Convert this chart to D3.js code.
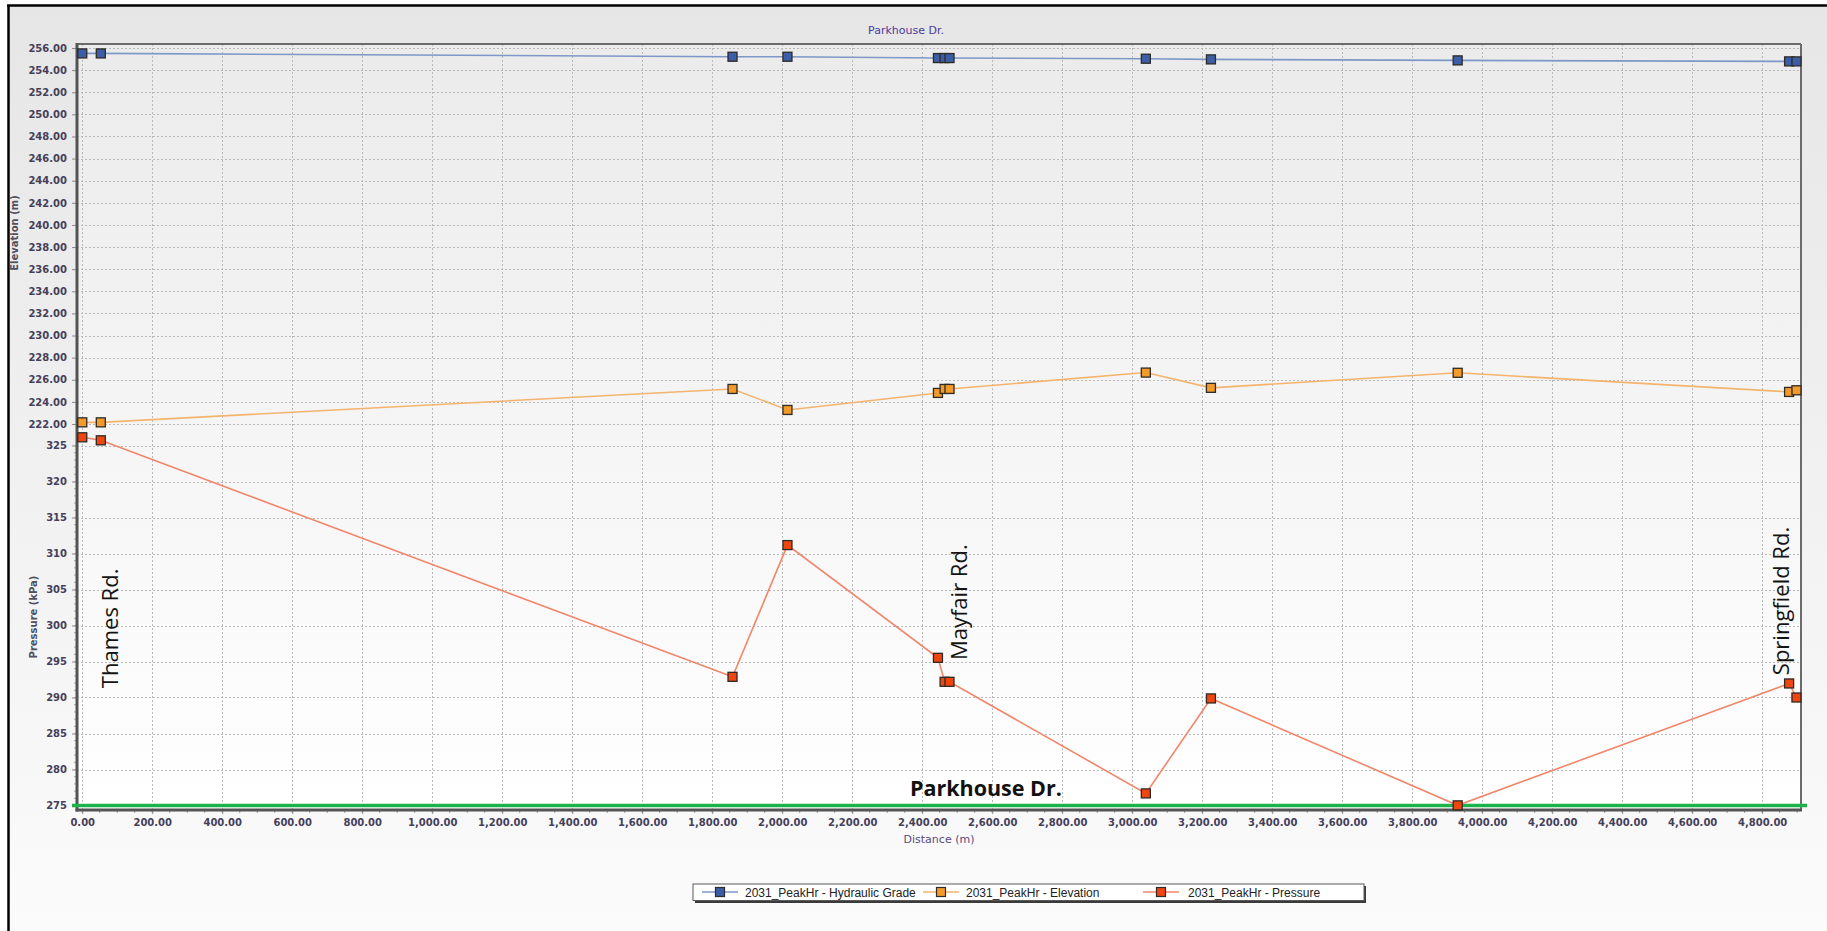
<!DOCTYPE html>
<html>
<head>
<meta charset="utf-8">
<script src="https://cdn.jsdelivr.net/npm/d3@7"></script>
<style>
  html, body { margin: 0; padding: 0; background: #ffffff; }
  svg { display: block; }
</style>
</head>
<body>
<script>
// ---------------- DATA ----------------
const chartTitle = "Parkhouse Dr.";
const distance       = [0, 53, 1858, 2015, 2445, 2464, 2478, 3039, 3225, 3930, 4877, 4898];
const hydraulicGrade = [255.51, 255.51, 255.21, 255.21, 255.09, 255.09, 255.09, 255.03, 254.97, 254.88, 254.79, 254.79];
const elevation      = [222.15, 222.15, 225.17, 223.27, 224.81, 225.17, 225.17, 226.65, 225.27, 226.63, 224.90, 225.05];
const pressure       = [326.14, 325.72, 292.87, 311.17, 295.51, 292.18, 292.18, 276.68, 289.87, 275.02, 291.95, 290.00];

const seriesNames = ["2031_PeakHr - Hydraulic Grade", "2031_PeakHr - Elevation", "2031_PeakHr - Pressure"];
const elevTicks  = [222, 224, 226, 228, 230, 232, 234, 236, 238, 240, 242, 244, 246, 248, 250, 252, 254, 256];
const pressTicks = [275, 280, 285, 290, 295, 300, 305, 310, 315, 320, 325];
const distTicks  = [0, 200, 400, 600, 800, 1000, 1200, 1400, 1600, 1800, 2000, 2200, 2400, 2600, 2800, 3000, 3200, 3400, 3600, 3800, 4000, 4200, 4400, 4600, 4800];

// street annotations: [label, distance, pressure at text start]
const streetLabels   = ["Thames Rd.", "Mayfair Rd.", "Springfield Rd."];
const streetDistance = [103, 2527, 4876];
const streetPressure = [291.3, 295.2, 293.1];
const baseLabel = "Parkhouse Dr.";
const baseLabelDistance = 2582;
const baseLabelPressure = 276.3;
const minimumPressure = 275;

// ---------------- LAYOUT ----------------
const W = 1827, H = 931;
const plot = { left: 77, right: 1801, top: 44, bottom: 810 };

const x = d3.scaleLinear().domain([-15, 4911]).range([plot.left, plot.right]);
const yElev = d3.scaleLinear().domain([222, 256]).range([424, 48]);
const yPress = d3.scaleLinear().domain([275, 325]).range([805.5, 445.5]);

const colors = {
  hglLine: "#7d98c8", hglFill: "#3b5ea6",
  elevLine: "#f4b46e", elevFill: "#f29a2a",
  presLine: "#f1866a", presFill: "#f0450f"
};

const svg = d3.select("body").append("svg").attr("width", W).attr("height", H);
const defs = svg.append("defs");
const og = defs.append("linearGradient").attr("id", "outerGrad").attr("x1", 0).attr("y1", 0).attr("x2", 0).attr("y2", 1);
og.append("stop").attr("offset", "0%").attr("stop-color", "#e6e6e6");
og.append("stop").attr("offset", "100%").attr("stop-color", "#fbfbfb");
const pg = defs.append("linearGradient").attr("id", "plotGrad").attr("x1", 0).attr("y1", 0).attr("x2", 0).attr("y2", 1);
pg.append("stop").attr("offset", "0%").attr("stop-color", "#ebebeb");
pg.append("stop").attr("offset", "100%").attr("stop-color", "#ffffff");

svg.append("rect").attr("width", W).attr("height", H).attr("fill", "#ffffff");
svg.append("rect").attr("x", 8).attr("y", 5).attr("width", W - 8).attr("height", H - 5).attr("fill", "url(#outerGrad)");
svg.append("line").attr("x1", 7).attr("x2", W).attr("y1", 5.5).attr("y2", 5.5).attr("stroke", "#000").attr("stroke-width", 2.5);
svg.append("line").attr("x1", 8.5).attr("x2", 8.5).attr("y1", 5).attr("y2", H).attr("stroke", "#000").attr("stroke-width", 2.5);

// plot background
svg.append("rect").attr("x", plot.left).attr("y", plot.top)
  .attr("width", plot.right - plot.left).attr("height", plot.bottom - plot.top)
  .attr("fill", "url(#plotGrad)");

// gridlines
const grid = svg.append("g").attr("stroke", "#b9b9b9").attr("stroke-width", 1).attr("stroke-dasharray", "2,2");
grid.selectAll(".vg").data(distTicks).join("line")
  .attr("x1", d => Math.round(x(d)) + 0.5).attr("x2", d => Math.round(x(d)) + 0.5)
  .attr("y1", plot.top).attr("y2", plot.bottom);
grid.selectAll(".he").data(elevTicks).join("line")
  .attr("x1", plot.left).attr("x2", plot.right)
  .attr("y1", d => Math.round(yElev(d)) + 0.5).attr("y2", d => Math.round(yElev(d)) + 0.5);
grid.selectAll(".hp").data(pressTicks).join("line")
  .attr("x1", plot.left).attr("x2", plot.right)
  .attr("y1", d => Math.round(yPress(d)) + 0.5).attr("y2", d => Math.round(yPress(d)) + 0.5);

// frame
svg.append("line").attr("x1", plot.left).attr("x2", plot.right).attr("y1", plot.top).attr("y2", plot.top).attr("stroke", "#6b6b6b").attr("stroke-width", 2);
svg.append("line").attr("x1", plot.right).attr("x2", plot.right).attr("y1", plot.top).attr("y2", plot.bottom).attr("stroke", "#6b6b6b").attr("stroke-width", 2);

const tickFont = "DejaVu Sans, Verdana, sans-serif";
const tickColor = "#45405a";

// left axes
const axElev = d3.axisLeft(yElev).tickValues(elevTicks).tickFormat(d3.format(".2f")).tickSize(5).tickPadding(5);
const gE = svg.append("g").attr("transform", `translate(${plot.left},0)`).call(axElev);
const axPress = d3.axisLeft(yPress).tickValues(pressTicks).tickFormat(d3.format("d")).tickSize(5).tickPadding(5);
const gP = svg.append("g").attr("transform", `translate(${plot.left},0)`).call(axPress);
// bottom axis
const axX = d3.axisBottom(x).tickValues(distTicks).tickFormat(d3.format(",.2f")).tickSize(4).tickPadding(3);
const gX = svg.append("g").attr("transform", `translate(0,${plot.bottom})`).call(axX);

[gE, gP, gX].forEach(g => {
  g.select(".domain").remove();
  g.selectAll(".tick line").attr("stroke", "#8a8a8a");
  g.selectAll(".tick text").attr("fill", tickColor).attr("font-family", tickFont)
    .attr("font-weight", "bold").attr("font-size", 10);
});
gX.selectAll(".tick text").attr("dy", "0.9em");

// minor ticks
const minorX = d3.range(0, 4901, 50);
svg.append("g").selectAll("line").data(minorX).join("line")
  .attr("x1", d => x(d)).attr("x2", d => x(d)).attr("y1", plot.bottom).attr("y2", plot.bottom + 3)
  .attr("stroke", "#9a9a9a");
const minorP = d3.range(276, 326, 1);
svg.append("g").selectAll("line").data(minorP).join("line")
  .attr("x1", plot.left - 3).attr("x2", plot.left).attr("y1", d => yPress(d)).attr("y2", d => yPress(d))
  .attr("stroke", "#a5a5a5");

// axis lines
svg.append("line").attr("x1", plot.left).attr("x2", plot.left).attr("y1", plot.top - 1).attr("y2", plot.bottom + 1.5).attr("stroke", "#545454").attr("stroke-width", 3);
svg.append("line").attr("x1", plot.left - 1.5).attr("x2", plot.right + 1).attr("y1", plot.bottom).attr("y2", plot.bottom).attr("stroke", "#545454").attr("stroke-width", 3);

// axis titles
svg.append("text").attr("transform", `translate(18,${233}) rotate(-90)`).attr("text-anchor", "middle")
  .attr("font-family", tickFont).attr("font-weight", "bold").attr("font-size", 10).attr("fill", "#4f4f5f").text("Elevation (m)");
svg.append("text").attr("transform", `translate(37,${617}) rotate(-90)`).attr("text-anchor", "middle")
  .attr("font-family", tickFont).attr("font-weight", "bold").attr("font-size", 10).attr("fill", "#4f4f5f").text("Pressure (kPa)");
svg.append("text").attr("x", (plot.left + plot.right) / 2).attr("y", 843).attr("text-anchor", "middle")
  .attr("font-family", tickFont).attr("font-size", 11).attr("fill", "#5a4a82").text("Distance (m)");
svg.append("text").attr("x", 906).attr("y", 34).attr("text-anchor", "middle")
  .attr("font-family", tickFont).attr("font-size", 11).attr("fill", "#4b3a9e").text(chartTitle);

// minimum pressure line
svg.append("line").attr("x1", plot.left - 5).attr("x2", plot.right + 6)
  .attr("y1", yPress(minimumPressure)).attr("y2", yPress(minimumPressure))
  .attr("stroke", "#1db34b").attr("stroke-width", 3.5);

// series
const series = [
  { vals: hydraulicGrade, y: yElev, line: colors.hglLine, fill: colors.hglFill },
  { vals: elevation, y: yElev, line: colors.elevLine, fill: colors.elevFill },
  { vals: pressure, y: yPress, line: colors.presLine, fill: colors.presFill }
];
series.forEach(s => {
  const pts = distance.map((d, i) => [d, s.vals[i]]);
  svg.append("path").datum(pts)
    .attr("d", d3.line().x(p => x(p[0])).y(p => s.y(p[1])))
    .attr("fill", "none").attr("stroke", s.line).attr("stroke-width", 1.6);
});
series.forEach(s => {
  const pts = distance.map((d, i) => [d, s.vals[i]]);
  svg.append("g").selectAll("rect").data(pts).join("rect")
    .attr("x", p => x(p[0]) - 4.5).attr("y", p => s.y(p[1]) - 4.5)
    .attr("width", 9).attr("height", 9)
    .attr("fill", s.fill).attr("stroke", "#2e2a26").attr("stroke-width", 1.3);
});

// street annotations
const annoFont = "Open Sans, Noto Sans, sans-serif";
streetLabels.forEach((t, i) => {
  svg.append("text")
    .attr("transform", `translate(${x(streetDistance[i])},${yPress(streetPressure[i])}) rotate(-90)`)
    .attr("font-family", annoFont).attr("font-size", 22).attr("fill", "#141414").text(t);
});
svg.append("text").attr("x", x(baseLabelDistance)).attr("y", yPress(baseLabelPressure))
  .attr("text-anchor", "middle").attr("font-family", annoFont).attr("font-weight", "bold")
  .attr("font-size", 21).attr("fill", "#111").attr("textLength", 152).attr("lengthAdjust", "spacingAndGlyphs")
  .text(baseLabel);

// legend
const lg = svg.append("g");
lg.append("rect").attr("x", 695).attr("y", 886).attr("width", 671).attr("height", 17).attr("fill", "#3a3a3a");
lg.append("rect").attr("x", 693).attr("y", 884).attr("width", 671).attr("height", 16.5).attr("fill", "#ffffff").attr("stroke", "#5a5a5a").attr("stroke-width", 1);
const legendX = [702, 923, 1143];
const legendText = [745, 966, 1188];
series.forEach((s, i) => {
  lg.append("line").attr("x1", legendX[i]).attr("x2", legendX[i] + 36).attr("y1", 892).attr("y2", 892)
    .attr("stroke", s.line).attr("stroke-width", 1.6);
  lg.append("rect").attr("x", legendX[i] + 13.5).attr("y", 887.5).attr("width", 9).attr("height", 9)
    .attr("fill", s.fill).attr("stroke", "#2e2a26").attr("stroke-width", 1.2);
  lg.append("text").attr("x", legendText[i]).attr("y", 896.5)
    .attr("font-family", "Liberation Sans, Arial, sans-serif").attr("font-size", 12).attr("fill", "#222")
    .text(seriesNames[i]);
});
</script>
</body>
</html>
